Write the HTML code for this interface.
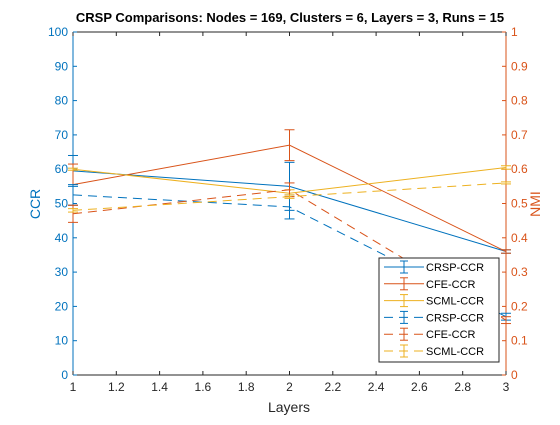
<!DOCTYPE html>
<html><head><meta charset="utf-8"><style>
body{margin:0;background:#fff;}
svg{font-family:"Liberation Sans",sans-serif;}
</style></head><body>
<svg id="c" width="560" height="420">
<rect width="560" height="420" fill="#fff"/>
<text x="290" y="22" font-size="13" font-weight="bold" text-anchor="middle">CRSP Comparisons: Nodes = 169, Clusters = 6, Layers = 3, Runs = 15</text>
<g id="axes"></g><g id="plot"></g>
</svg>
<script>
const layers=[1,2,3];
const xTicks=[1,1.2,1.4,1.6,1.8,2,2.2,2.4,2.6,2.8,3];
const yTicks=[0,10,20,30,40,50,60,70,80,90,100];
const y2Ticks=[0,0.1,0.2,0.3,0.4,0.5,0.6,0.7,0.8,0.9,1];
const crspCCR=[59.5,55,36], crspCCRerr=[4.5,7,0.5];
const cfeCCR=[55.5,67,36], cfeCCRerr=[6,4.5,0.5];
const scmlCCR=[60,53,60.5], scmlCCRerr=[0.3,1,0.5];
const crspNMI=[0.525,0.49,0.17], crspNMIerr=[0.03,0.035,0.01];
const cfeNMI=[0.47,0.54,0.16], cfeNMIerr=[0.025,0.02,0.01];
const scmlNMI=[0.48,0.52,0.56], scmlNMIerr=[0.005,0.005,0.003];
const L=73,R=506,T=32,B=375;
const sx=v=>L+(v-1)/2*(R-L), sy=v=>B-v/100*(B-T), sy2=v=>B-v*(B-T);
const NS='http://www.w3.org/2000/svg';
const ax=document.getElementById('axes'), pl=document.getElementById('plot');
function mk(p,t,a){const e=document.createElementNS(NS,t);for(const k in a)e.setAttribute(k,a[k]);p.appendChild(e);return e;}
const BL='#0072BD',OR='#D95319',YE='#EDB120';
mk(ax,'line',{x1:L,y1:B,x2:R,y2:B,stroke:'#262626'});
mk(ax,'line',{x1:L,y1:T,x2:R,y2:T,stroke:'#262626'});
mk(ax,'line',{x1:L,y1:T,x2:L,y2:B,stroke:BL});
mk(ax,'line',{x1:R,y1:T,x2:R,y2:B,stroke:OR});
xTicks.forEach(v=>{const x=sx(v);mk(ax,'line',{x1:x,y1:B,x2:x,y2:B-4,stroke:'#262626'});mk(ax,'line',{x1:x,y1:T,x2:x,y2:T+4,stroke:'#262626'});
const t=mk(ax,'text',{x:x,y:B+16,'font-size':12,'text-anchor':'middle',fill:'#262626'});t.textContent=String(v);

});
yTicks.forEach(v=>{const y=sy(v);mk(ax,'line',{x1:L,y1:y,x2:L+4,y2:y,stroke:BL});
const t=mk(ax,'text',{x:L-5,y:y+4,'font-size':12,'text-anchor':'end',fill:BL});t.textContent=v;

});
y2Ticks.forEach(v=>{const y=sy2(v);mk(ax,'line',{x1:R,y1:y,x2:R-4,y2:y,stroke:OR});
const t=mk(ax,'text',{x:R+5,y:y+4,'font-size':12,fill:OR});t.textContent=String(v);

});
let t=mk(ax,'text',{x:289,y:412,'font-size':14,'text-anchor':'middle',fill:'#262626'});t.textContent='Layers';

t=mk(ax,'text',{x:40,y:204,'font-size':14,'text-anchor':'middle',fill:BL,transform:'rotate(-90 40 204)'});t.textContent='CCR';

t=mk(ax,'text',{x:540,y:204,'font-size':14,'text-anchor':'middle',fill:OR,transform:'rotate(-90 540 204)'});t.textContent='NMI';

function series(vals,errs,scale,col,dash,name){
 const g=mk(pl,'g',{});
 
 
 mk(g,'polyline',{points:layers.map((l,i)=>sx(l)+','+scale(vals[i])).join(' '),fill:'none',stroke:col,'stroke-width':1,'stroke-dasharray':dash?'9,6':'none'});
 layers.forEach((l,i)=>{const x=sx(l),y1=scale(vals[i]-errs[i]),y2=scale(vals[i]+errs[i]);
  mk(g,'line',{x1:x,y1:y1,x2:x,y2:y2,stroke:col});
  mk(g,'line',{x1:x-5,y1:y1,x2:x+5,y2:y1,stroke:col});
  mk(g,'line',{x1:x-5,y1:y2,x2:x+5,y2:y2,stroke:col});});
}
series(crspCCR,crspCCRerr,sy,BL,false,'crsp-ccr-line');
series(cfeCCR,cfeCCRerr,sy,OR,false,'cfe-ccr-line');
series(scmlCCR,scmlCCRerr,sy,YE,false,'scml-ccr-line');
series(crspNMI,crspNMIerr,sy2,BL,true,'crsp-nmi-line');
series(cfeNMI,cfeNMIerr,sy2,OR,true,'cfe-nmi-line');
series(scmlNMI,scmlNMIerr,sy2,YE,true,'scml-nmi-line');
// legend
const lg=mk(pl,'g',{});


mk(lg,'rect',{x:379,y:258,width:120,height:104,fill:'#fff',stroke:'#262626'});
const ents=[['CRSP-CCR',BL,0],['CFE-CCR',OR,0],['SCML-CCR',YE,0],['CRSP-CCR',BL,1],['CFE-CCR',OR,1],['SCML-CCR',YE,1]];
ents.forEach((e,i)=>{const y=267+i*16.8;
 mk(lg,'line',{x1:384,y1:y,x2:424,y2:y,stroke:e[1],'stroke-dasharray':e[2]?'9,6':'none'});
 mk(lg,'line',{x1:404,y1:y-6,x2:404,y2:y+6,stroke:e[1]});
 mk(lg,'line',{x1:400,y1:y-6,x2:408,y2:y-6,stroke:e[1]});
 mk(lg,'line',{x1:400,y1:y+6,x2:408,y2:y+6,stroke:e[1]});
 const tx=mk(lg,'text',{x:426,y:y+4,'font-size':11,fill:'#000'});tx.textContent=e[0];
 
 });
</script>
</body></html>
